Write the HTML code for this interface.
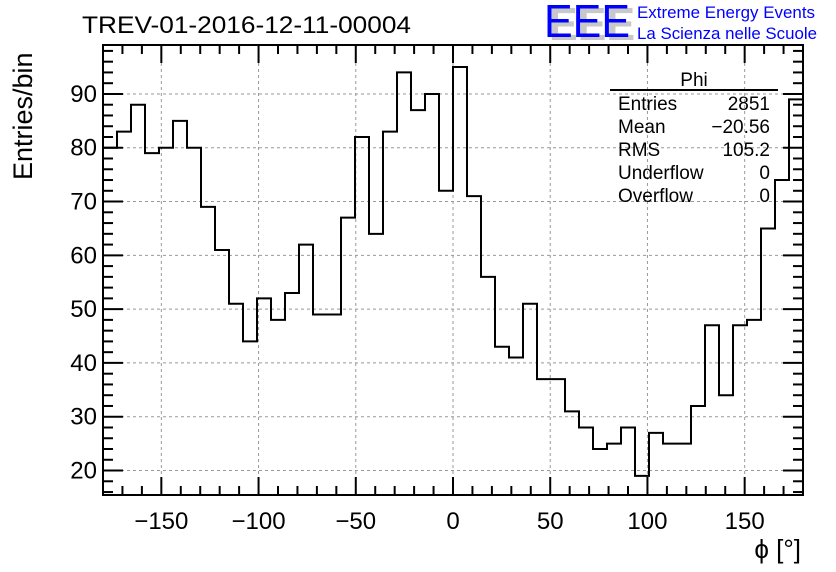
<!DOCTYPE html>
<html><head><meta charset="utf-8"><style>
body{margin:0;background:#fff;width:836px;height:572px;overflow:hidden}
svg{display:block;font-family:"Liberation Sans",sans-serif}
</style></head><body>
<svg id="c" width="836" height="572">
<text x="82" y="33" font-size="24" textLength="329" lengthAdjust="spacingAndGlyphs">TREV-01-2016-12-11-00004</text>
<g>
<text x="549" y="40" font-size="46" fill="#c8c8c8" font-weight="bold" textLength="86" lengthAdjust="spacingAndGlyphs">EEE</text>
<text x="544" y="37" font-size="46" fill="#0000ff" textLength="86" lengthAdjust="spacingAndGlyphs">EEE</text>
<text x="637" y="18" font-size="16.5" fill="#0000ff" textLength="178" lengthAdjust="spacingAndGlyphs">Extreme Energy Events</text>
<text x="637" y="39" font-size="16.5" fill="#0000ff" textLength="180" lengthAdjust="spacingAndGlyphs">La Scienza nelle Scuole</text>
</g>
<g id="grid"></g>
<path id="hist" fill="none" stroke="#000" stroke-width="2"/>
<g id="axes"></g>
<rect x="103" y="45" width="700" height="450" fill="none" stroke="#000" stroke-width="2"/>
<g font-size="19">
<text x="694" y="86" text-anchor="middle">Phi</text>
<line x1="610" y1="90" x2="778" y2="90" stroke="#000" stroke-width="2"/>
<text x="618" y="110">Entries</text><text x="770" y="110" text-anchor="end">2851</text>
<text x="618" y="133">Mean</text><text x="770" y="133" text-anchor="end">−20.56</text>
<text x="618" y="156">RMS</text><text x="770" y="156" text-anchor="end">105.2</text>
<text x="618" y="179">Underflow</text><text x="770" y="179" text-anchor="end">0</text>
<text x="618" y="202">Overflow</text><text x="770" y="202" text-anchor="end">0</text>
</g>
<text x="32" y="180" font-size="27" transform="rotate(-90 32 180)" text-anchor="start">Entries/bin</text>
<text x="801" y="558" font-size="26" text-anchor="end">ϕ [°]</text>
</svg>
<script>
const counts=[80,83,88,79,80,85,80,69,61,51,44,52,48,53,62,49,49,67,82,64,83,94,87,90,72,95,71,56,43,41,51,37,37,31,28,24,25,28,19,27,25,25,32,47,34,47,48,65,74,89];
const xTicks=[-150,-100,-50,0,50,100,150];
const yTicks=[20,30,40,50,60,70,80,90];
const xMin=-180,xMax=180,yMin=15.45,yMax=99.1;
const L=103,R=803,T=45,B=495;
const sx=v=>L+(v-xMin)/(xMax-xMin)*(R-L);
const sy=v=>B-(v-yMin)/(yMax-yMin)*(B-T);
const NS="http://www.w3.org/2000/svg";
function mk(tag,attrs,parent){const e=document.createElementNS(NS,tag);for(const k in attrs)e.setAttribute(k,attrs[k]);parent.appendChild(e);return e;}
const grid=document.getElementById('grid'),axes=document.getElementById('axes');
const w=(xMax-xMin)/counts.length;
let d="M"+sx(xMin)+","+B;
counts.forEach((c,i)=>{d+=" L"+sx(xMin+i*w)+","+sy(c)+" L"+sx(xMin+(i+1)*w)+","+sy(c);});
d+=" L"+sx(xMax)+","+B;
document.getElementById('hist').setAttribute('d',d);
xTicks.forEach(t=>{
 const g=mk('line',{x1:sx(t),x2:sx(t),y1:T,y2:B,stroke:'#999','stroke-dasharray':'3,3','stroke-width':1},grid);
 
 
 const tx=mk('text',{x:sx(t),y:529,'font-size':24,'text-anchor':'middle'},axes);
 tx.textContent=t<0?'−'+(-t):String(t);
 
 
});
yTicks.forEach(t=>{
 const g=mk('line',{x1:L,x2:R,y1:sy(t),y2:sy(t),stroke:'#999','stroke-dasharray':'3,3','stroke-width':1},grid);
 
 
 const tx=mk('text',{x:97,y:sy(t)+8,'font-size':24,'text-anchor':'end'},axes);
 tx.textContent=String(t);
 
 
});
for(let v=-170;v<180;v+=10){const len=v%50===0?18:9;
 mk('line',{x1:sx(v),x2:sx(v),y1:B,y2:B-len,stroke:'#000','stroke-width':2},axes);
 mk('line',{x1:sx(v),x2:sx(v),y1:T,y2:T+len,stroke:'#000','stroke-width':2},axes);}
for(let v=16;v<=98;v+=2){const len=v%10===0?20:10;
 mk('line',{x1:L,x2:L+len,y1:sy(v),y2:sy(v),stroke:'#000','stroke-width':2},axes);
 mk('line',{x1:R,x2:R-len,y1:sy(v),y2:sy(v),stroke:'#000','stroke-width':2},axes);}
</script>
</body></html>
